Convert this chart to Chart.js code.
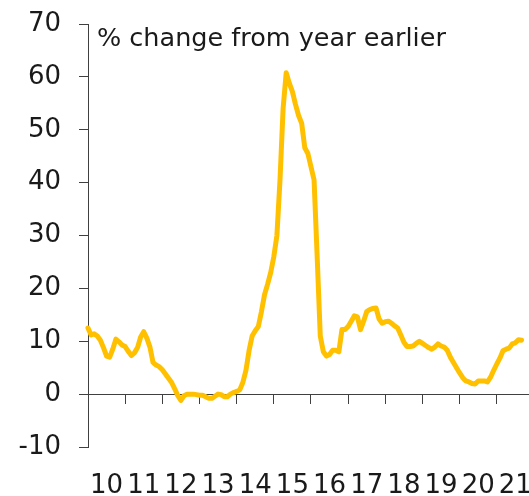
<!DOCTYPE html>
<html>
<head>
<meta charset="utf-8">
<script src="https://cdn.jsdelivr.net/npm/chart.js@4/dist/chart.umd.min.js"></script>
<style>
  html, body { margin: 0; padding: 0; background: #fff; }
  #wrap { width: 529px; height: 496px; position: relative; }
</style>
</head>
<body>
<div id="wrap"><canvas id="chart"></canvas></div>
<script>
// Monthly series, Jan 2010 .. Sep 2021 (% change from year earlier)
const values2010 = [12.5, 11.2, 11.4, 11.0, 10.2, 8.8, 7.2, 7.0, 8.5, 10.4, 9.9, 9.3];
const values2011 = [9.0, 8.1, 7.3, 7.8, 8.8, 10.8, 11.8, 10.6, 8.9, 6.0, 5.5, 5.2];
const values2012 = [4.6, 3.8, 3.0, 2.2, 1.0, -0.3, -1.2, -0.3, 0.0, 0.0, 0.0, -0.1];
const values2013 = [-0.2, -0.2, -0.5, -0.8, -0.8, -0.4, 0.0, -0.1, -0.5, -0.5, 0.0, 0.3];
const values2014 = [0.5, 0.8, 2.2, 4.5, 8.2, 11.0, 12.0, 12.8, 15.6, 18.8, 20.8, 23.0];
const values2015 = [26.0, 30.0, 40.5, 54.0, 60.8, 58.8, 57.2, 54.8, 52.7, 51.2, 46.6, 45.5];
const values2016 = [43.0, 40.5, 26.0, 11.0, 8.0, 7.2, 7.5, 8.3, 8.3, 8.0, 12.2, 12.2];
const values2017 = [12.8, 13.8, 14.8, 14.6, 12.2, 13.8, 15.6, 16.0, 16.2, 16.3, 14.2, 13.4];
const values2018 = [13.7, 13.8, 13.4, 12.9, 12.5, 11.2, 9.8, 9.0, 9.0, 9.1, 9.6, 10.0];
const values2019 = [9.6, 9.2, 8.8, 8.5, 8.9, 9.5, 9.1, 8.9, 8.3, 7.0, 6.0, 5.0];
const values2020 = [4.0, 3.1, 2.5, 2.3, 2.0, 1.9, 2.5, 2.5, 2.5, 2.3, 3.2, 4.5];
const values2021 = [5.7, 6.8, 8.2, 8.5, 8.7, 9.5, 9.7, 10.3, 10.2];

const yearLabels = ['10', '11', '12', '13', '14', '15', '16', '17', '18', '19', '20', '21'];
const yTicks = [-10, 0, 10, 20, 30, 40, 50, 60, 70];
const titleText = '% change from year earlier';

const series = [].concat(values2010, values2011, values2012, values2013, values2014,
  values2015, values2016, values2017, values2018, values2019, values2020, values2021);

const FONT = 'DejaVu Sans';
const AXIS = '#404040';
const TEXT = '#1a1a1a';
const X_MAX = 142.4; // axis runs a little past the last month

// draws the in-plot caption
const captionPlugin = {
  id: 'caption',
  afterDraw(chart) {
    const ctx = chart.ctx;
    ctx.save();
    ctx.font = '25.5px "' + FONT + '"';
    ctx.fillStyle = TEXT;
    ctx.textAlign = 'left';
    ctx.textBaseline = 'alphabetic';
    ctx.fillText(titleText, chart.chartArea.left + 9, 46);
    ctx.restore();
  }
};

const ctx = document.getElementById('chart').getContext('2d');
new Chart(ctx, {
  type: 'line',
  data: {
    datasets: [{
      data: series.map((v, i) => ({ x: i, y: v })),
      borderColor: '#FFC000',
      borderWidth: 5,
      pointRadius: 0,
      tension: 0,
      borderJoinStyle: 'round',
      borderCapStyle: 'round',
      clip: false
    }]
  },
  options: {
    responsive: true,
    maintainAspectRatio: false,
    animation: false,
    layout: { padding: { top: 24, right: 0, bottom: 0, left: 0 } },
    plugins: {
      legend: { display: false },
      tooltip: { enabled: false }
    },
    scales: {
      x: {
        type: 'linear',
        min: 0,
        max: X_MAX,
        grid: { display: false, drawTicks: false },
        border: { display: false },
        ticks: {
          padding: 24,
          color: TEXT,
          font: { family: FONT, size: 26 },
          maxRotation: 0,
          autoSkip: false,
          callback: (v) => yearLabels[Math.round((v - 6) / 12)]
        },
        afterBuildTicks: (s) => {
          s.ticks = yearLabels.map((l, i) => ({ value: i * 12 + 6 }));
        },
        afterFit: (s) => {
          s.height = 49;
          s.paddingLeft = 0;
          s.paddingRight = 0;
        }
      },
      x2: {
        type: 'linear',
        axis: 'x',
        position: { y: 0 },
        min: 0,
        max: X_MAX,
        grid: { drawOnChartArea: false, tickLength: 9, color: AXIS },
        border: { display: true, color: AXIS, width: 1 },
        ticks: { display: false },
        afterBuildTicks: (s) => {
          s.ticks = yearLabels.map((l, i) => ({ value: i * 12 }));
        },
        afterFit: (s) => {
          s.paddingLeft = 0;
          s.paddingRight = 0;
        }
      },
      y: {
        min: -10,
        max: 70,
        grid: { drawOnChartArea: false, tickLength: 9, color: AXIS },
        border: { display: true, color: AXIS, width: 1 },
        ticks: {
          padding: 18,
          color: TEXT,
          font: { family: FONT, size: 26 }
        },
        afterBuildTicks: (s) => {
          s.ticks = yTicks.map(v => ({ value: v }));
        },
        afterFit: (s) => {
          s.width = 88;
          s.paddingTop = 0;
          s.paddingBottom = 0;
        }
      }
    }
  },
  plugins: [captionPlugin]
});
</script>
</body>
</html>
